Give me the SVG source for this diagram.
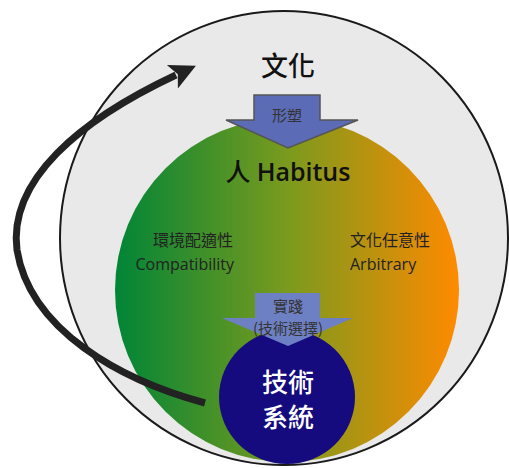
<svg xmlns="http://www.w3.org/2000/svg" width="509" height="468" viewBox="0 0 509 468">
<defs>
<linearGradient id="g" x1="0" y1="0" x2="1" y2="0">
<stop offset="0" stop-color="#008537"/>
<stop offset="0.5" stop-color="#7a9a1e"/>
<stop offset="1" stop-color="#ff8a00"/>
</linearGradient>
<marker id="ah" markerUnits="userSpaceOnUse" markerWidth="30" markerHeight="30" refX="4" refY="15" orient="auto">
<path d="M0,2 L26,15 L0,28 L6,15 Z" fill="#222"/>
</marker>
<style>
.cjk{font-family:"Noto Sans CJK TC","Noto Sans CJK SC",sans-serif;text-anchor:middle}
.lat{font-family:"Open Sans","Noto Sans",sans-serif}
.lbl{font-family:"Open Sans","Noto Sans CJK TC",sans-serif;font-size:16px;fill:#222}
</style>
</defs>
<g id="culture">
<ellipse cx="284" cy="238" rx="224" ry="227" fill="#e9e9e9" stroke="#1a1a1a" stroke-width="2"/>
<text class="cjk" x="288" y="76" font-size="27" font-weight="500" fill="#111">文化</text>
</g>
<g id="habitus">
<circle cx="287" cy="290" r="172" fill="url(#g)"/>
<text x="288" y="181" text-anchor="middle" font-size="25" font-weight="600" fill="#111"><tspan font-family="Noto Sans CJK TC, sans-serif" font-weight="500">人</tspan><tspan class="lat" dx="6">Habitus</tspan></text>
<text class="lbl" x="233" y="246" text-anchor="end" font-size="15">環境配適性</text>
<text class="lbl" x="234" y="270" text-anchor="end">Compatibility</text>
<text class="lbl" x="350" y="246" font-size="15">文化任意性</text>
<text class="lbl" x="350" y="270">Arbitrary</text>
</g>
<g id="tech">
<ellipse cx="287" cy="397" rx="68" ry="67" fill="#150b7e"/>
<text class="cjk" x="288" y="392" font-size="26" font-weight="500" fill="#fff">技術</text>
<text class="cjk" x="288" y="427" font-size="26" font-weight="500" fill="#fff">系統</text>
</g>
<g id="connectors">
<g id="shape-arrow">
<path d="M254,95 H320 V120 H358 L288,148 L226,120 H254 Z" fill="#5b6bb6" stroke="#555" stroke-width="1.5"/>
<text class="cjk" x="287" y="121" font-size="15" fill="#333">形塑</text>
</g>
<g id="practice-arrow">
<path d="M255,293 H320 V318 H353 L288,346 L222,318 H255 Z" fill="#6e80c4"/>
<text class="cjk" x="288" y="312" font-size="15" fill="#333">實踐</text>
<text class="cjk" x="288" y="334" font-size="15" fill="#333">(技術選擇)</text>
</g>
<path d="M205,403 C120,380 30,330 17,250 C8,180 80,120 176,75" fill="none" stroke="#222" stroke-width="7" marker-end="url(#ah)"/>
</g>
</svg>
